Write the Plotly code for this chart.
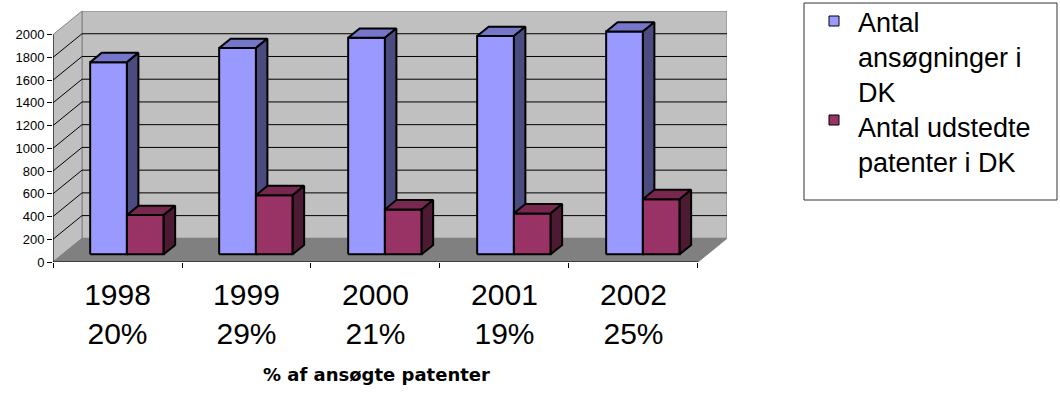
import plotly.graph_objects as go

# --- data -------------------------------------------------------------
years = ["1998", "1999", "2000", "2001", "2002"]
share_labels = ["20%", "29%", "21%", "19%", "25%"]
applications = [1690, 1815, 1905, 1920, 1960]   # Antal ansøgninger i DK
granted = [345, 520, 395, 360, 485]             # Antal udstedte patenter i DK
series_names = ["Antal<br>ansøgninger i<br>DK", "Antal udstedte<br>patenter i DK"]
y_ticks = list(range(0, 2001, 200))
x_title = "% af ansøgte patenter"

# --- styling ------------------------------------------------------------
W_PX, H_PX = 1060, 394
FONT = "Liberation Sans, Arial, sans-serif"
front_cols = ["#9999FF", "#993366"]
top_cols = ["#7575C9", "#78284F"]
side_cols = ["#4B4B80", "#4D1A33"]
WALL = "#C0C0C0"
FLOOR = "#808080"
EDGE = "#808080"

# pseudo-3D depth (x in category units, y in value units)
DX, DY = 0.225, 208
F0, F1 = 0.325, 0.72     # bar front/back depth fractions
BW = 0.285               # bar width in category units
X_LO, X_HI = -0.5, len(years) - 0.5
Y_TOP = y_ticks[-1]


def px(x):
    return x / W_PX


def py(y):
    return 1 - y / H_PX


fig = go.Figure()

# walls, floor and grid
shapes = []
shapes.append(dict(type="rect", xref="x", yref="y", layer="below",
                   x0=X_LO + DX, x1=X_HI + DX, y0=DY, y1=Y_TOP + DY,
                   fillcolor=WALL, line=dict(color=EDGE, width=1)))
shapes.append(dict(type="path", xref="x", yref="y", layer="below",
                   path=f"M{X_LO},0 L{X_LO + DX},{DY} L{X_LO + DX},{Y_TOP + DY} L{X_LO},{Y_TOP} Z",
                   fillcolor=WALL, line=dict(color=EDGE, width=1)))
shapes.append(dict(type="path", xref="x", yref="y", layer="below",
                   path=f"M{X_LO},0 L{X_HI},0 L{X_HI + DX},{DY} L{X_LO + DX},{DY} Z",
                   fillcolor=FLOOR, line=dict(color=EDGE, width=1)))
for v in y_ticks[1:-1]:
    shapes.append(dict(type="line", xref="x", yref="y", layer="below",
                       x0=X_LO + DX, x1=X_HI + DX, y0=v + DY, y1=v + DY,
                       line=dict(color="black", width=1)))
    shapes.append(dict(type="line", xref="x", yref="y", layer="below",
                       x0=X_LO, x1=X_LO + DX, y0=v, y1=v + DY,
                       line=dict(color="black", width=1)))
# value axis line and front floor edge
shapes.append(dict(type="line", xref="x", yref="y", x0=X_LO, x1=X_LO, y0=0, y1=Y_TOP,
                   line=dict(color="black", width=1)))
shapes.append(dict(type="line", xref="x", yref="y", x0=X_LO, x1=X_HI, y0=0, y1=0,
                   line=dict(color="black", width=1)))


def poly(xs, ys, color):
    fig.add_trace(go.Scatter(
        x=xs + [xs[0]], y=ys + [ys[0]], mode="lines", fill="toself",
        fillcolor=color, line=dict(color="black", width=2),
        hoverinfo="skip", showlegend=False))


ddx, ddy = (F1 - F0) * DX, (F1 - F0) * DY
for i in range(len(years)):
    for s, values in enumerate([applications, granted]):
        left = i - BW + s * BW
        x0 = left + F0 * DX
        x1 = x0 + BW
        y0 = F0 * DY
        y1 = y0 + values[i]
        poly([x0, x1, x1, x0], [y0, y0, y1, y1], front_cols[s])
        poly([x0, x1, x1 + ddx, x0 + ddx], [y1, y1, y1 + ddy, y1 + ddy], top_cols[s])
        poly([x1, x1 + ddx, x1 + ddx, x1], [y0, y0 + ddy, y1 + ddy, y1], side_cols[s])

# legend box
shapes.append(dict(type="rect", xref="paper", yref="paper",
                   x0=px(804), x1=px(1057), y0=py(200), y1=py(3),
                   fillcolor="white", line=dict(color="#333333", width=1)))
annotations = []
legend_rows = [(16, 7), (115, 112)]
for s, (sw_y, txt_y) in enumerate(legend_rows):
    shapes.append(dict(type="rect", xref="paper", yref="paper",
                       x0=px(829), x1=px(839), y0=py(sw_y + 10), y1=py(sw_y),
                       fillcolor=front_cols[s], line=dict(color="black", width=1)))
    annotations.append(dict(xref="paper", yref="paper", x=px(857), y=py(txt_y),
                            xanchor="left", yanchor="top", align="left",
                            text=series_names[s], showarrow=False, borderpad=0,
                            font=dict(family=FONT, size=27, color="black")))

annotations.append(dict(xref="paper", yref="paper", x=px(376), y=py(387),
                        xanchor="center", yanchor="bottom", text=x_title, showarrow=False,
                        font=dict(family="DejaVu Sans, sans-serif", size=18, color="black",
                                  weight="bold")))

fig.update_layout(
    width=W_PX, height=H_PX,
    margin=dict(l=0, r=0, t=0, b=0),
    paper_bgcolor="white", plot_bgcolor="rgba(0,0,0,0)",
    showlegend=False,
    shapes=shapes, annotations=annotations,
    xaxis=dict(domain=[px(53), px(727)], range=[X_LO, X_HI + DX],
               showgrid=False, zeroline=False, showline=False,
               tickvals=list(range(len(years))),
               ticktext=[f"{y}<br>{p}" for y, p in zip(years, share_labels)],
               ticks="", ticklabelstandoff=12,
               tickfont=dict(family=FONT, size=30, color="black"),
               minor=dict(tickmode="linear", tick0=X_LO, dtick=1, ticks="outside",
                          ticklen=5, tickcolor="black", tickwidth=1, showgrid=False),
               automargin=False, fixedrange=True),
    yaxis=dict(domain=[py(262), py(11)], range=[0, Y_TOP + DY],
               showgrid=False, zeroline=False, showline=False,
               tickvals=y_ticks, ticks="outside", ticklen=5, tickcolor="black",
               tickfont=dict(family=FONT, size=13, color="black"),
               automargin=False, fixedrange=True),
)

fig.write_html("out.html")
